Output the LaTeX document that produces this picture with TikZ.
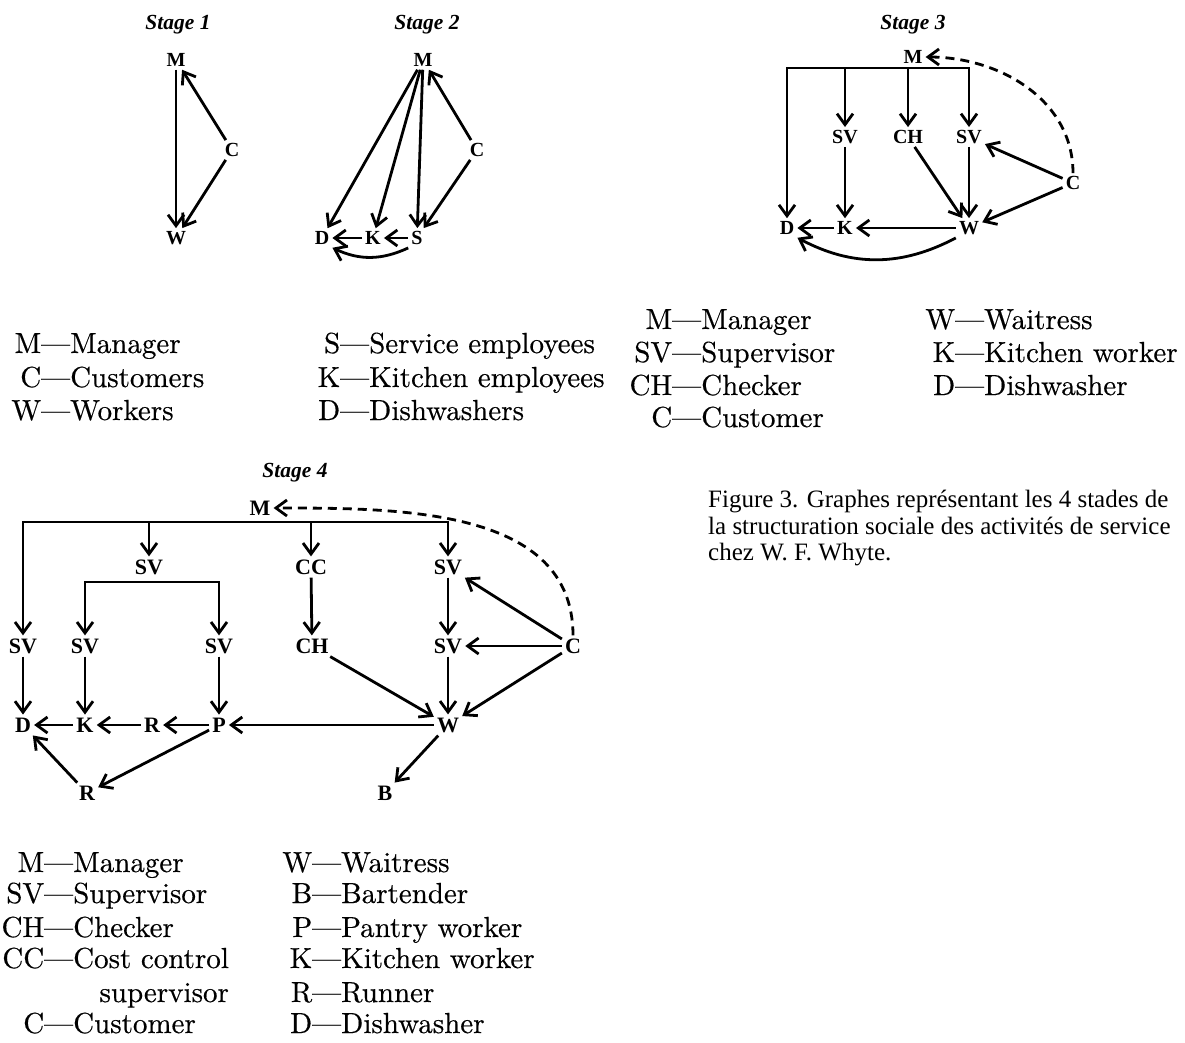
\documentclass[tikz,border=0pt]{standalone}
\usepackage{fontspec}
\newfontfamily\timesfont{Liberation Serif}
\newfontfamily\legfont{lmroman10-regular.otf}[Ligatures=TeX,FakeBold=0.4]
\usetikzlibrary{arrows.meta}
\tikzset{bb/.tip={Straight Barb[length=11pt,width=16pt]}}

\begin{document}
\begin{tikzpicture}[x=1pt,y=-1pt,
    arr/.style={line width=2.8pt,-bb},
    arr2/.style={line width=2.8pt,bb-bb},
    dsh/.style={arr,dash pattern=on 9pt off 6pt},
    lbl/.style={font=\timesfont\bfseries\fontsize{20}{20}\selectfont,inner sep=3pt},
    lblb/.style={lbl,font=\timesfont\bfseries\fontsize{22}{22}\selectfont},
    stg/.style={font=\timesfont\bfseries\itshape\fontsize{21.5}{21.5}\selectfont},
    leg/.style={font=\legfont\fontsize{29}{32}\selectfont,anchor=base west,inner sep=0pt},
    capt/.style={font=\timesfont\fontsize{25}{26.7}\selectfont,align=left,anchor=north west,inner sep=0pt}]
      \useasboundingbox (0,0) rectangle (1185,1043);
      % stage 1
      \node (t1) at (178,25) [stg] {Stage 1};
      \node (m1) at (176,60) [lbl] {M};
      \node (c1) at (232,150) [lbl] {C};
      \node (w1) at (176,238) [lbl] {W};
      \draw[arr] (m1) edge (w1) (c1) edge (m1) (c1) edge (w1);
      % stage 2
      \node (t2) at (427,25) [stg] {Stage 2};
      \node (m2) at (423,60) [lbl] {M};
      \node (c2) at (477,150) [lbl] {C};
      \node (d2) at (322,238) [lbl] {D};
      \node (k2) at (373,238) [lbl] {K};
      \node (s2) at (417,238) [lbl] {S};
      \draw[arr] (m2) edge (d2) (m2) edge (k2) (m2) edge (s2)
      (c2) edge (m2) (c2) edge (s2)
      (s2) edge (k2) (k2) edge (d2);
      \draw[arr] (s2.south west) to[bend left=25] (d2.south east);
      % stage 3
      \node (t3) at (913,25) [stg] {Stage 3};
      \node (m3) at (913,57) [lbl] {M};
      \coordinate (mb3) at (787,68);
      \node (sv3a) at (845,137) [lbl] {SV};
      \node (ch3) at (908,137) [lbl] {CH};
      \node (sv3b) at (969,137) [lbl] {SV};
      \node (c3) at (1073,183) [lbl] {C};
      \node (d3) at (787,228) [lbl] {D};
      \node (k3) at (845,228) [lbl] {K};
      \node (w3) at (969,228) [lbl] {W};
      \draw[arr2] (d3) -- (mb3) -| (sv3b);
      \draw[arr] (sv3a |- mb3) -- (sv3a);
      \draw[arr] (ch3 |- mb3) -- (ch3);
      \draw[arr] (sv3a) edge (k3) (sv3b) edge (w3) (ch3) edge (w3)
      (c3) edge (sv3b) (c3) edge (w3)
      (w3) edge (k3) (k3) edge (d3);
      \draw[arr] (w3.south west) to[bend left=28] (d3.south east);
      \draw[dsh] (c3.north) to[out=90,in=0] (m3.east);
      % stage 4
      \node (t4) at (295,473) [stg] {Stage 4};
      \node (m4) at (260,508) [lblb] {M};
      \coordinate (mb4) at (23,522);
      \node (sv4a) at (149,567) [lblb] {SV};
      \node (cc4) at (311,567) [lblb] {CC};
      \node (sv4b) at (448,567) [lblb] {SV};
      \coordinate (sb4) at (85,582);
      \node (sv4d) at (23,646) [lblb] {SV};
      \node (sv4k) at (85,646) [lblb] {SV};
      \node (sv4p) at (219,646) [lblb] {SV};
      \node (ch4) at (312,646) [lblb] {CH};
      \node (sv4w) at (448,646) [lblb] {SV};
      \node (c4) at (573,646) [lblb] {C};
      \node (d4) at (23,725) [lblb] {D};
      \node (k4) at (85,725) [lblb] {K};
      \node (r4) at (152,725) [lblb] {R};
      \node (p4) at (219,725) [lblb] {P};
      \node (w4) at (448,725) [lblb] {W};
      \node (r4b) at (87,793) [lblb] {R};
      \node (b4) at (385,793) [lblb] {B};
      \draw[arr2] (sv4d) -- (mb4) -| (sv4b);
      \draw[arr2] (sv4k) -- (sb4) -| (sv4p);
      \draw[arr] (sv4a |- mb4) -- (sv4a);
      \draw[arr] (cc4 |- mb4) -- (cc4);
      \draw[arr] (cc4) edge (ch4) (sv4b) edge (sv4w) (sv4w) edge (w4)
      (sv4d) edge (d4) (sv4k) edge (k4) (sv4p) edge (p4)
      (ch4) edge (w4) (c4) edge (sv4b) (c4) edge (sv4w) (c4) edge (w4)
      (w4) edge (p4) (p4) edge (r4) (r4) edge (k4) (k4) edge (d4)
      (p4) edge (r4b) (r4b) edge (d4) (w4) edge (b4);
      \draw[dsh] (c4.north) to[out=90,in=0] (m4.east);
      % legends
      \node (l1m) at (70,353) [leg] {\llap{M---}Manager};
      \node (l1c) at (70,387) [leg] {\llap{C---}Customers};
      \node (l1w) at (70,420) [leg] {\llap{W---}Workers};
      \node (l2s) at (369,353) [leg] {\llap{S---}Service employees};
      \node (l2k) at (369,387) [leg] {\llap{K---}Kitchen employees};
      \node (l2d) at (369,420) [leg] {\llap{D---}Dishwashers};
      \node (l3m) at (701,329) [leg] {\llap{M---}Manager};
      \node (l3sv) at (701,362) [leg] {\llap{SV---}Supervisor};
      \node (l3ch) at (701,395) [leg] {\llap{CH---}Checker};
      \node (l3c) at (701,427) [leg] {\llap{C---}Customer};
      \node (l3w) at (984,329) [leg] {\llap{W---}Waitress};
      \node (l3k) at (984,362) [leg] {\llap{K---}Kitchen worker};
      \node (l3d) at (984,395) [leg] {\llap{D---}Dishwasher};
      \node (l4m) at (73,872) [leg] {\llap{M---}Manager};
      \node (l4sv) at (73,903) [leg] {\llap{SV---}Supervisor};
      \node (l4ch) at (73,937) [leg] {\llap{CH---}Checker};
      \node (l4cc) at (73,968) [leg] {\llap{CC---}Cost control};
      \node (l4s) at (l4cc.east |- 0,1002) [leg,anchor=base east] {supervisor};
      \node (l4c) at (73,1033) [leg] {\llap{C---}Customer};
      \node (l4w) at (341,872) [leg] {\llap{W---}Waitress};
      \node (l4b) at (341,903) [leg] {\llap{B---}Bartender};
      \node (l4p) at (341,937) [leg] {\llap{P---}Pantry worker};
      \node (l4k) at (341,968) [leg] {\llap{K---}Kitchen worker};
      \node (l4r) at (341,1002) [leg] {\llap{R---}Runner};
      \node (l4d) at (341,1033) [leg] {\llap{D---}Dishwasher};
      % caption
      \node (cap) at (708,490) [capt] {Figure 3. Graphes représentant les 4 stades de\\la structuration sociale des activités de service\\chez W. F. Whyte.};
    \end{tikzpicture}
\end{document}
